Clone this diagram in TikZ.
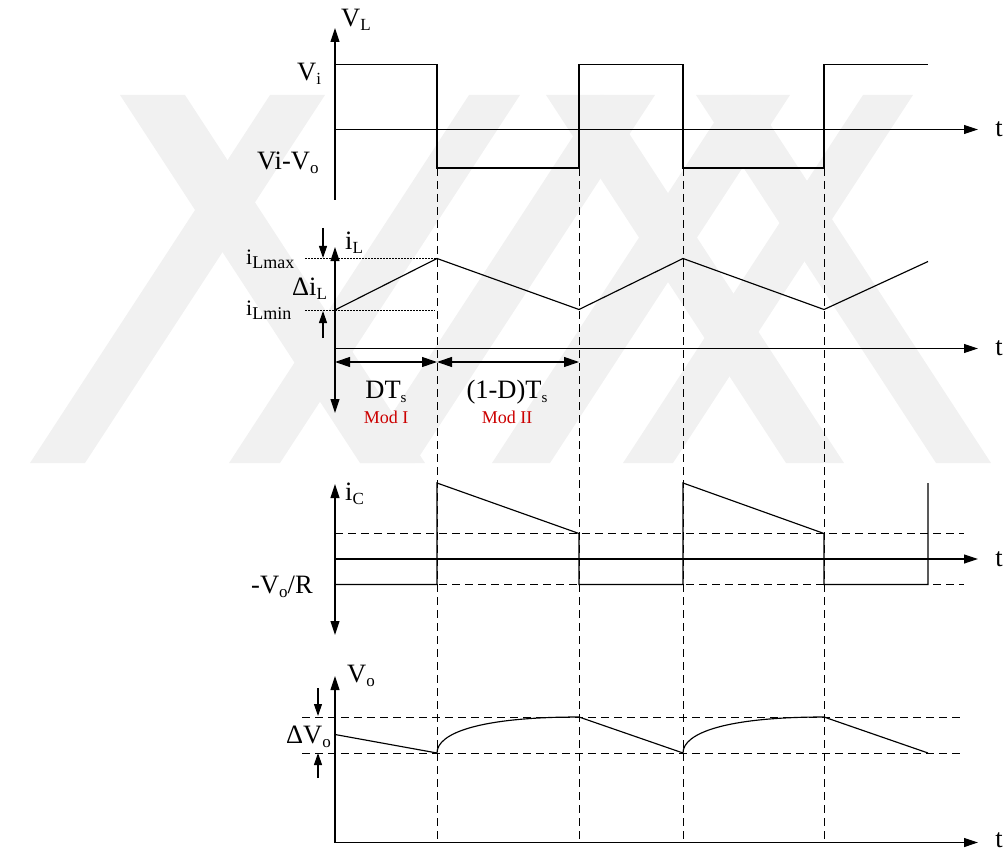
\documentclass[tikz,border=0pt]{standalone}
\usepackage{fontspec}
\setmainfont{Liberation Serif}
\usetikzlibrary{arrows.meta}
\newcommand\mysub[2][17]{\raisebox{-4pt}{\fontsize{#1}{#1}\selectfont #2}}
\definecolor{modred}{RGB}{204,0,0}
\definecolor{wmark}{RGB}{241,241,241}
\begin{document}
\begin{tikzpicture}[x=1pt,y=-1pt,
  wave/.style={line width=1.15pt, line join=miter},
  ax/.style={line width=1.15pt, -{Triangle[length=14pt,width=9pt]}},
  axb/.style={line width=1.15pt, {Triangle[length=14pt,width=9pt]}-{Triangle[length=14pt,width=9pt]}},
  dim/.style={line width=1.15pt, {Triangle[length=15pt,width=10pt]}-{Triangle[length=15pt,width=10pt]}},
  guide/.style={line width=0.9pt, dash pattern=on 8pt off 5pt},
  dotl/.style={line width=0.9pt, dash pattern=on 1.5pt off 1.5pt},
  lab/.style={inner sep=0pt, font=\fontsize{26.5}{26.5}\selectfont},
  modl/.style={inner sep=0pt, text=modred, font=\fontsize{18}{18}\selectfont},
  smallarr/.style={line width=1.15pt, -{Triangle[length=12pt,width=8pt]}},
  band/.style={fill=wmark, draw=none}]
\useasboundingbox (0,0) rectangle (1004,853);
% faint watermark bands
\foreach \a/\b in {270/325,469/520,600/655,732/790,863/913}
  \fill[band] (\a,95) -- (\b,95) -- (\b-240,463) -- (\a-240,463) -- cycle;
\foreach \a/\b in {120/185,546/604,696/751}
  \fill[band] (\a,95) -- (\b,95) -- (\b+240,463) -- (\a+240,463) -- cycle;
% vertical guides
\foreach \x in {437,579,683,824} \draw[guide] (\x,168) -- (\x,842);
% ---------- V_L panel
\coordinate (vlb) at (335,200);
\coordinate (vlt) at (335,28);
\draw[ax] (vlb) -- (vlt);
\coordinate (t1a) at (335,129.5);
\coordinate (t1b) at (978,129.5);
\draw[ax] (t1a) -- (t1b);
\draw[wave] (335,64.5) -- (437,64.5) -- (437,168) -- (579,168) -- (579,64.5) -- (683,64.5) -- (683,168) -- (824,168) -- (824,64.5) -- (928,64.5);
\node[lab, anchor=base west] (lVL) at (341,27) {V\mysub{L}};
\node[lab, anchor=base west] (lVi) at (297,81) {V\mysub{i}};
\node[lab, anchor=base west] (lViVo) at (257,170) {Vi-V\mysub{o}};
\node[lab] (lt1) at (999,129.5) {t};
% ---------- i_L panel
\draw[axb] (335,247) -- (335,413);
\draw[ax] (335,348.5) -- (978,348.5);
\draw[wave] (335,310) -- (437,258.5) -- (579,309.5) -- (683,258.5) -- (824,309.5) -- (928,261.5);
\draw[dotl] (305,258.5) -- (437,258.5);
\draw[dotl] (305,310) -- (435,310);
\draw[smallarr] (323,228) -- (323,258);
\draw[smallarr] (323,338) -- (323,311);
\draw[dim] (335,362) -- (437,362);
\draw[dim] (437,362) -- (579,362);
\node[lab, anchor=base west] (liL) at (345,250) {i\mysub{L}};
\node[lab, anchor=base west, font=\fontsize{22}{22}\selectfont] (liLmax) at (246,265) {i\mysub[18]{Lmax}};
\node[lab, anchor=base west] (ldiL) at (292,295) {Δi\mysub{L}};
\node[lab, anchor=base west, font=\fontsize{22}{22}\selectfont] (liLmin) at (246,315) {i\mysub[18]{Lmin}};
\node[lab, anchor=base] (lDT) at (386,398) {DT\mysub[15]{s}};
\node[modl, anchor=base] (lmod1) at (386,423) {Mod I};
\node[lab, anchor=base] (l1DT) at (507,398) {(1-D)T\mysub[15]{s}};
\node[modl, anchor=base] (lmod2) at (507,423) {Mod II};
\node[lab] (lt2) at (999,348.5) {t};
% ---------- i_C panel
\draw[axb] (335,484) -- (335,635);
\draw[ax] (335,559) -- (978,559);
\draw[guide] (335,533.5) -- (964,533.5);
\draw[guide] (335,584.5) -- (964,584.5);
\draw[wave] (335,584.5) -- (437,584.5) -- (437,483) -- (579,533.5) -- (579,584.5) -- (683,584.5) -- (683,483) -- (824,533.5) -- (824,584.5) -- (928,584.5) -- (928,483);
\node[lab, anchor=base west] (liC) at (345,500) {i\mysub{C}};
\node[lab, anchor=base west] (lVoR) at (251,593) {-V\mysub{o}/R};
\node[lab] (lt3) at (999,559) {t};
% ---------- V_o panel
\draw[axb] (335,676) -- (335,842.5) -- (978,842.5);
\draw[guide] (302,717) -- (964,717);
\draw[guide] (302,753) -- (964,753);
\draw[wave] (335,734.5) -- (437,753) .. controls (437,733) and (480,717) .. (579,717) -- (683,753) .. controls (683,733) and (726,717) .. (824,717) -- (928,753);
\draw[smallarr] (318,688) -- (318,716);
\draw[smallarr] (318,778) -- (318,753);
\node[lab, anchor=base west] (lVo) at (347,682) {V\mysub{o}};
\node[lab, anchor=base west] (ldVo) at (286,743) {ΔV\mysub{o}};
\node[lab] (lt4) at (999,840.5) {t};
\end{tikzpicture}
\end{document}
